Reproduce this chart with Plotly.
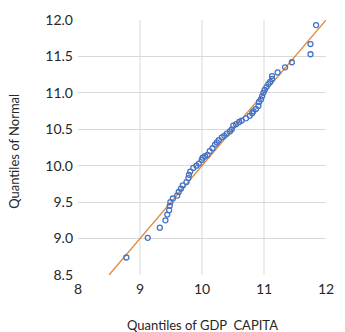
import plotly.graph_objects as go

# Quantiles of GDP CAPITA (x) vs Quantiles of Normal (y)
gdp_q = [8.78, 9.125, 9.32, 9.41, 9.44, 9.47, 9.48, 9.49, 9.53, 9.60, 9.625, 9.66,
         9.69, 9.75, 9.78, 9.79, 9.81, 9.86, 9.91, 9.95, 9.995, 10.01, 10.05, 10.09,
         10.125, 10.17, 10.21, 10.24, 10.27, 10.32, 10.36, 10.40, 10.45, 10.48, 10.505,
         10.55, 10.60, 10.64, 10.71, 10.77, 10.81, 10.83, 10.87, 10.91, 10.92, 10.95,
         10.97, 10.99, 11.01, 11.04, 11.07, 11.10, 11.13, 11.13, 11.22, 11.34, 11.45,
         11.75, 11.75, 11.84]
normal_q = [8.74, 9.01, 9.15, 9.25, 9.33, 9.39, 9.45, 9.50, 9.55, 9.59, 9.64, 9.685,
            9.73, 9.775, 9.83, 9.875, 9.92, 9.97, 10.0, 10.03, 10.08, 10.11, 10.13, 10.15,
            10.20, 10.24, 10.29, 10.32, 10.35, 10.39, 10.41, 10.44, 10.47, 10.50, 10.55,
            10.57, 10.60, 10.62, 10.65, 10.685, 10.72, 10.75, 10.78, 10.82, 10.875, 10.91,
            10.955, 11.0, 11.04, 11.08, 11.12, 11.15, 11.19, 11.23, 11.28, 11.35, 11.42,
            11.53, 11.67, 11.93]

ref_line = [8.5, 12.0]
x_ticks = [8, 9, 10, 11, 12]
x_grid = [9, 10, 11]
y_ticks = [8.5, 9.0, 9.5, 10.0, 10.5, 11.0, 11.5, 12.0]

FONT = "Lato"
GRID = "#D9D9D9"

fig = go.Figure()
fig.add_trace(go.Scatter(x=ref_line, y=ref_line, mode="lines",
                         line=dict(color="#E0883C", width=1.3),
                         hoverinfo="skip", showlegend=False))
fig.add_trace(go.Scatter(x=gdp_q, y=normal_q, mode="markers",
                         marker=dict(symbol="circle-open", size=5,
                                     color="#4472C4", line=dict(width=1.3)),
                         showlegend=False))

for gx in x_grid:
    fig.add_shape(type="line", xref="x", yref="paper", x0=gx, x1=gx, y0=0, y1=1,
                  line=dict(color=GRID, width=1), layer="below")

fig.update_layout(
    width=345, height=332,
    margin=dict(l=78, r=11, t=16, b=57),
    paper_bgcolor="white", plot_bgcolor="white",
    font=dict(family=FONT, color="#404040", size=14),
    xaxis=dict(range=[8, 12], tickvals=x_ticks, ticktext=[str(v) for v in x_ticks],
               showgrid=False, zeroline=False, showline=False, ticks="",
               ticklabelstandoff=4, tickfont=dict(size=14, color="#262626")),
    yaxis=dict(range=[8.5, 12.0], tickvals=y_ticks,
               ticktext=[f"{v:.1f}" for v in y_ticks],
               showgrid=True, gridcolor=GRID, gridwidth=1,
               zeroline=False, showline=False, ticks="",
               ticklabelstandoff=4, tickfont=dict(size=14, color="#262626")),
    annotations=[
        dict(text="Quantiles of GDP  CAPITA", xref="paper", yref="paper",
             x=0.5, y=-0.197, xanchor="center", yanchor="middle", showarrow=False,
             font=dict(size=13, color="#262626", family=FONT)),
        dict(text="Quantiles of Normal", xref="paper", yref="paper",
             x=-0.258, y=0.483, xanchor="center", yanchor="middle", showarrow=False,
             textangle=-90, font=dict(size=13, color="#262626", family=FONT)),
    ],
)

fig.write_html("out.html", config={"displayModeBar": False},
               post_script="document.body.style.margin='0';document.body.style.overflow='hidden';")
